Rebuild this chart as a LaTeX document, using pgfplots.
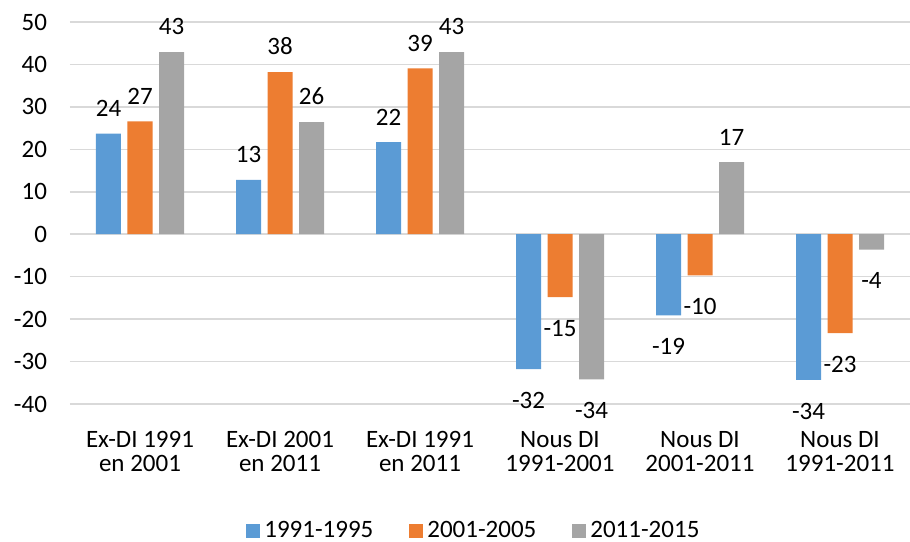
\documentclass[border=0pt]{standalone}
\usepackage{pgfplots}
\pgfplotsset{compat=1.18}
\usepackage{fontspec}
\setmainfont{Carlito}

\definecolor{cblue}{HTML}{5B9BD5}
\definecolor{corange}{HTML}{ED7D31}
\definecolor{cgray}{HTML}{A5A5A5}
\definecolor{cgrid}{HTML}{D9D9D9}

\begin{document}
\begin{tikzpicture}[font=\fontsize{12.5}{12}\selectfont]
  \useasboundingbox (-35pt,-68.5pt) rectangle (420pt,202pt);
  \begin{axis}[
      scale only axis,
      width=420pt, height=191pt,
      ybar=3.25pt,
      bar width=12.5pt,
      xmin=-0.5, xmax=5.5,
      ymin=-40, ymax=50,
      xtick={0,1,2,3,4,5},
      xticklabels={{Ex-DI 1991\\en 2001},{Ex-DI 2001\\en 2011},{Ex-DI 1991\\en 2011},
                   {Nous DI\\1991-2001},{Nous DI\\2001-2011},{Nous DI\\1991-2011}},
      xticklabel style={align=center, yshift=-10pt},
      ytick={-40,-30,...,50},
      yticklabel style={xshift=-8pt},
      /pgf/number format/assume math mode=true,
      axis lines*=left,
      axis line style={draw=none},
      major tick length=0pt,
      ymajorgrids,
      grid style={cgrid, line width=0.75pt},
      nodes near coords,
      nodes near coords align={vertical},
      visualization depends on=rawy \as \rawy,
      every node near coord/.append style={
        /pgf/number format/fixed, /pgf/number format/precision=0,
        yshift={\rawy<0 ? -8pt : 5pt}},
      legend columns=-1,
      legend style={draw=none, at={(rel axis cs:0.482,0)}, anchor=center,
        yshift=-63.5pt, /tikz/every even column/.append style={column sep=16pt}},
      legend image code/.code={\fill[#1] (0pt,-3.5pt) rectangle (7pt,3.5pt);},
    ]
    % 1991-1995
    \addplot[fill=cblue, draw=none] coordinates {(0,23.7) (1,12.8) (2,21.7) (3,-31.8) (4,-19.1) (5,-34.3)};
    % 2001-2005
    \addplot[fill=corange, draw=none] coordinates {(0,26.6) (1,38.2) (2,39.1) (3,-14.8) (4,-9.7) (5,-23.3)};
    % 2011-2015
    \addplot[fill=cgray, draw=none] coordinates {(0,42.9) (1,26.4) (2,42.9) (3,-34.2) (4,17.0) (5,-3.6)};
    \legend{1991-1995,2001-2005,2011-2015}
  \end{axis}
\end{tikzpicture}
\end{document}
